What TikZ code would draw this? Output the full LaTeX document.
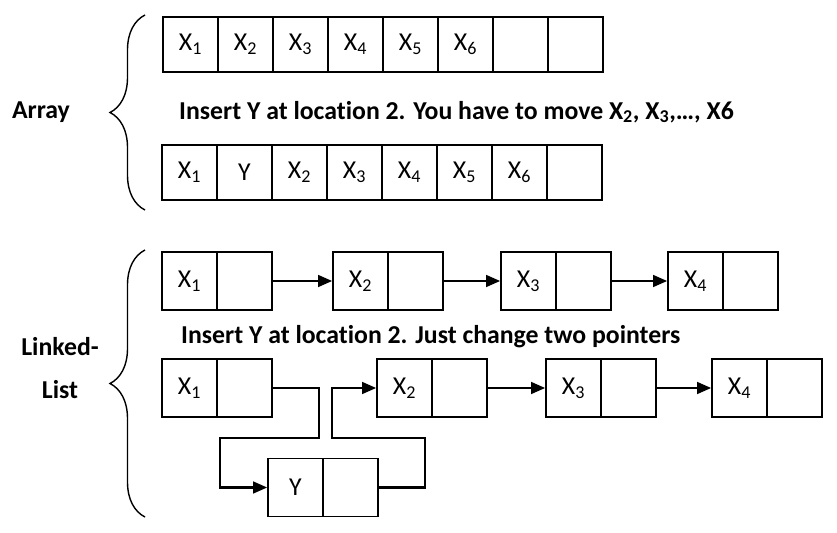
\documentclass[tikz,border=0pt]{standalone}
\usepackage{fontspec}
\setmainfont[Ligatures=NoCommon]{Carlito}
\usetikzlibrary{arrows.meta,decorations.pathreplacing}

\tikzset{
  cell/.style={draw, line width=1.4pt, minimum width=1.65cm, minimum height=1.65cm, inner sep=0pt, font=\fontsize{22}{26}\selectfont},
  lcell/.style={cell, minimum height=1.74cm},
  ptr/.style={-{Triangle[length=12pt,width=10pt]}, line width=1.9pt},
  brc/.style={decorate, decoration={brace, amplitude=1.05cm}, line width=1.2pt},
  lbl/.style={font=\fontsize{22}{37}\selectfont\bfseries}
}

\begin{document}
\begin{tikzpicture}[x=0.03cm, y=-0.03cm]
    \useasboundingbox (0,0) rectangle (837,533);

    % Array
    \node[lbl] (arr) at (41,112) {Array};
    \draw[brc] (145,210) -- (145,15);
    \foreach \t [count=\i] in {X\textsubscript{1}, X\textsubscript{2}, X\textsubscript{3}, X\textsubscript{4}, X\textsubscript{5}, X\textsubscript{6}, {}, {}}
        \node[cell] (a\i) at (135.5+55*\i,44.5) {\t};
    \node[lbl, anchor=west] (ains) at (175,112) {Insert Y at location 2. You have to move X\textsubscript{2}, X\textsubscript{3},…, X6};
    \foreach \t [count=\i] in {X\textsubscript{1}, Y, X\textsubscript{2}, X\textsubscript{3}, X\textsubscript{4}, X\textsubscript{5}, X\textsubscript{6}, {}}
        \node[cell] (b\i) at (134.5+55*\i,172.5) {\t};

    % Linked list
    \node[lbl, align=center] (lst) at (60,368) {Linked-\\List};
    \draw[brc] (145,517) -- (145,250);

    % before
    \node[lcell] (t1) at (189.5,281) {X\textsubscript{1}};
    \node[lcell] (t1p) at (244.5,281) {};
    \node[lcell] (t2) at (360.5,281) {X\textsubscript{2}};
    \node[lcell] (t2p) at (415.5,281) {};
    \node[lcell] (t3) at (528.5,281) {X\textsubscript{3}};
    \node[lcell] (t3p) at (583.5,281) {};
    \node[lcell] (t4) at (695.5,281) {X\textsubscript{4}};
    \node[lcell] (t4p) at (750.5,281) {};
    \draw[ptr] (t1p.east) -- (t2.west);
    \draw[ptr] (t2p.east) -- (t3.west);
    \draw[ptr] (t3p.east) -- (t4.west);

    \node[lbl, anchor=west] (lins) at (177,337) {Insert Y at location 2. Just change two pointers};

    % after
    \node[lcell] (m1) at (189.5,388) {X\textsubscript{1}};
    \node[lcell] (m1p) at (244.5,388) {};
    \node[lcell] (m2) at (404.5,388) {X\textsubscript{2}};
    \node[lcell] (m2p) at (459.5,388) {};
    \node[lcell] (m3) at (573.5,388) {X\textsubscript{3}};
    \node[lcell] (m3p) at (628.5,388) {};
    \node[lcell] (m4) at (739.5,388) {X\textsubscript{4}};
    \node[lcell] (m4p) at (794.5,388) {};
    \node[lcell] (my) at (295.5,487.5) {Y};
    \node[lcell] (myp) at (350.5,487.5) {};
    \draw[ptr] (m1p.east) -- ++(46,0) -- ++(0,50) -- ++(-99,0) |- (my.west);
    \draw[ptr] (myp.east) -- ++(46,0) -- ++(0,-49.5) -- ++(-93,0) |- (m2.west);
    \draw[ptr] (m2p.east) -- (m3.west);
    \draw[ptr] (m3p.east) -- (m4.west);
\end{tikzpicture}
\end{document}
